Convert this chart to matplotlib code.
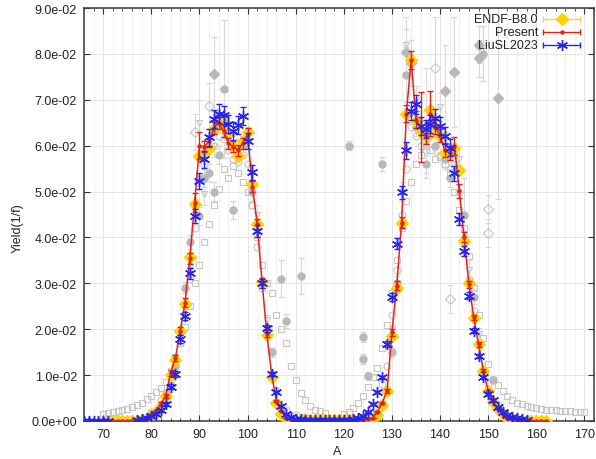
import matplotlib
matplotlib.use('Agg')
import matplotlib.pyplot as plt
from matplotlib.ticker import MultipleLocator, FuncFormatter

plt.rcParams['font.family'] = ['Liberation Sans', 'DejaVu Sans']
plt.rcParams['font.size'] = 9

# ---------------- data ----------------
endf_A = list(range(71, 163))
endf_Y = [0.000002, 0.000010, 0.000020, 0.000035, 0.000050, 0.000070, 0.000083, 0.000206, 0.000445, 0.00125,
          0.00200, 0.00330, 0.00536, 0.00995, 0.0132, 0.0196, 0.0256, 0.0358, 0.0473, 0.0578,
          0.0582, 0.0596, 0.0637, 0.0647, 0.0650, 0.0628, 0.0598, 0.0578, 0.0611, 0.0629,
          0.0517, 0.0429, 0.0303, 0.0188, 0.0096, 0.0040, 0.00146, 0.00054, 0.00031, 0.00025,
          0.00018, 0.00013, 0.00014, 0.00012, 0.00011, 0.00011, 0.00011, 0.00011, 0.00011, 0.00013,
          0.00013, 0.00015, 0.00016, 0.00027, 0.00034, 0.00059, 0.00130, 0.00350, 0.00660, 0.0185,
          0.0289, 0.0431, 0.0670, 0.0787, 0.0654, 0.0631, 0.0619, 0.0677, 0.0641, 0.0622,
          0.0585, 0.0584, 0.0596, 0.0547, 0.0393, 0.0300, 0.0225, 0.0167, 0.0108, 0.0065,
          0.0042, 0.0027, 0.0016, 0.00074, 0.00033, 0.00014, 0.000063, 0.000030, 0.000010, 0.000003,
          0.000001, 0.0000005]
endf_err = [0.00001] * 7 + [0.00003, 0.00005, 0.0001,
            0.0001, 0.0002, 0.0003, 0.0004, 0.0005, 0.0006, 0.0006, 0.0007, 0.0008, 0.0009,
            0.0009, 0.0009, 0.0009, 0.0009, 0.0009, 0.0009, 0.0009, 0.0009, 0.0009, 0.0009,
            0.0008, 0.0007, 0.0006, 0.0005, 0.0003, 0.0002, 0.0001, 0.00005, 0.00003, 0.00003] + \
           [0.00002] * 10 + \
           [0.00002, 0.00002, 0.00002, 0.00003, 0.00004, 0.00006, 0.0001, 0.0002, 0.0003, 0.0005,
            0.0006, 0.0007, 0.0009, 0.0010, 0.0009, 0.0009, 0.0009, 0.0009, 0.0009, 0.0009,
            0.0009, 0.0009, 0.0009, 0.0009, 0.0007, 0.0006, 0.0005, 0.0004, 0.0003, 0.0002,
            0.0001, 0.0001, 0.00005, 0.00003, 0.00002, 0.00001, 0.00001, 0.00001, 0.00001, 0.00001,
            0.00001, 0.00001]

pres_A = list(range(71, 163))
pres_Y = [0.000002, 0.000010, 0.000020, 0.000035, 0.000050, 0.000070, 0.000090, 0.000210, 0.000450, 0.00130,
          0.00210, 0.00380, 0.00550, 0.0105, 0.0137, 0.0196, 0.0258, 0.0355, 0.0476, 0.0600,
          0.0598, 0.0610, 0.0639, 0.0650, 0.0632, 0.0605, 0.0598, 0.0590, 0.0605, 0.0625,
          0.0511, 0.0430, 0.0304, 0.0189, 0.0102, 0.0043, 0.0022, 0.00070, 0.00035, 0.00026,
          0.00018, 0.00013, 0.00014, 0.00012, 0.00011, 0.00011, 0.00011, 0.00011, 0.00011, 0.00013,
          0.00013, 0.00015, 0.00017, 0.00030, 0.00040, 0.00070, 0.00200, 0.00400, 0.00660, 0.0193,
          0.0295, 0.0432, 0.0670, 0.0787, 0.0657, 0.0640, 0.0620, 0.0670, 0.0641, 0.0622,
          0.0590, 0.0584, 0.0599, 0.0501, 0.0400, 0.0298, 0.0226, 0.0167, 0.0110, 0.0066,
          0.0043, 0.0027, 0.0016, 0.00075, 0.00034, 0.00015, 0.000065, 0.000030, 0.000010, 0.000003,
          0.000001, 0.0000005]
pres_err = [0.00002, 0.00002, 0.00003, 0.00003, 0.00004, 0.00005, 0.00005, 0.0001, 0.0001, 0.0002,
            0.0002, 0.0003, 0.0004, 0.0006, 0.0007, 0.0009, 0.0010, 0.0012, 0.0020, 0.0030,
            0.0012, 0.0012, 0.0013, 0.0013, 0.0013, 0.0012, 0.0012, 0.0012, 0.0012, 0.0013,
            0.0012, 0.0011, 0.0008, 0.0006, 0.0004, 0.0002, 0.0001, 0.00005, 0.00003, 0.00003] + \
           [0.00002] * 10 + \
           [0.00002, 0.00002, 0.00002, 0.00003, 0.00004, 0.00006, 0.0001, 0.0002, 0.0004, 0.0008,
            0.0010, 0.0012, 0.0018, 0.0020, 0.0018, 0.0076, 0.0016, 0.0050, 0.0016, 0.0015,
            0.0015, 0.0015, 0.0020, 0.0016, 0.0011, 0.0008, 0.0006, 0.0005, 0.0003, 0.0002,
            0.0001, 0.0001, 0.00005, 0.00003, 0.00002, 0.00001, 0.00001, 0.00001, 0.00001, 0.00001,
            0.00001, 0.00001]

liu_A = list(range(66, 72)) + list(range(77, 159))
liu_Y = [0.00001, 0.00002, 0.00003, 0.00005, 0.00008, 0.00010,
         0.00020, 0.00040, 0.00070, 0.00110, 0.00160, 0.00230, 0.00370, 0.00750, 0.01020, 0.01790,
         0.0229, 0.0322, 0.0447, 0.0523, 0.0570, 0.0618, 0.0658, 0.0670, 0.0667, 0.0647,
         0.0632, 0.0645, 0.0665, 0.0610, 0.0542, 0.0415, 0.0300, 0.0202, 0.0102, 0.0063,
         0.0033, 0.0015, 0.0008, 0.0005, 0.0004, 0.0003, 0.00025, 0.00025, 0.00025, 0.00025,
         0.00025, 0.00025, 0.00025, 0.00025, 0.0003, 0.0004, 0.0006, 0.0010, 0.0020, 0.0037,
         0.0063, 0.0095, 0.0168, 0.0270, 0.0386, 0.0498, 0.0590, 0.0675, 0.0690, 0.0643,
         0.0636, 0.0647, 0.0660, 0.0643, 0.0622, 0.0596, 0.0540, 0.0440, 0.0370, 0.0273,
         0.0197, 0.0142, 0.0095, 0.0059, 0.0045, 0.0030, 0.0020, 0.0013, 0.0009, 0.0006,
         0.0004, 0.0002]
liu_err = [0.00002] * 6 + \
          [0.00005, 0.0001, 0.0001, 0.0002, 0.0002, 0.0003, 0.0004, 0.0005, 0.0006, 0.0008,
           0.0009, 0.0012, 0.0015, 0.0017, 0.0018, 0.0019, 0.0020, 0.0020, 0.0020, 0.0019,
           0.0019, 0.0020, 0.0020, 0.0018, 0.0016, 0.0013, 0.0010, 0.0007, 0.0004, 0.0003,
           0.0002, 0.0001, 0.00005, 0.00004, 0.00003, 0.00003, 0.00003, 0.00003, 0.00003, 0.00003,
           0.00003, 0.00003, 0.00003, 0.00003, 0.00003, 0.00004, 0.00005, 0.00006, 0.0001, 0.0002,
           0.0003, 0.0004, 0.0006, 0.0009, 0.0012, 0.0015, 0.0018, 0.0020, 0.0021, 0.0019,
           0.0019, 0.0019, 0.0020, 0.0019, 0.0019, 0.0018, 0.0016, 0.0013, 0.0011, 0.0008,
           0.0006, 0.0005, 0.0004, 0.0003, 0.0002, 0.0001, 0.0001, 0.00005, 0.00004, 0.00003,
           0.00002, 0.00002]

# grey experimental data (various sets)
sq_A = list(range(70, 117)) + list(range(120, 171))
sq_Y = [0.0015, 0.0017, 0.0020, 0.0022, 0.0024, 0.0026, 0.0030, 0.0034, 0.0040, 0.0047,
        0.0055, 0.0063, 0.0072, 0.0085, 0.0110, 0.0140, 0.0170, 0.0205, 0.0250, 0.0300,
        0.0340, 0.0390, 0.0430, 0.0470, 0.0505, 0.0550, 0.0530, 0.0555, 0.0540, 0.0520,
        0.0500, 0.0470, 0.0400, 0.0340, 0.0300, 0.0280, 0.0230, 0.0200, 0.0170, 0.0120,
        0.0090, 0.0060, 0.0045, 0.0032, 0.0025, 0.0021, 0.0018,
        0.0015, 0.0020, 0.0028, 0.0040, 0.0055, 0.0075, 0.0095, 0.0115, 0.0160, 0.0210,
        0.0280, 0.0350, 0.0420, 0.0480, 0.0520, 0.0560, 0.0580, 0.0600, 0.0590, 0.0570,
        0.0575, 0.0560, 0.0540, 0.0500, 0.0460, 0.0420, 0.0360, 0.0290, 0.0230, 0.0180,
        0.0125, 0.0090, 0.0078, 0.0066, 0.0055, 0.0046, 0.0040, 0.0036, 0.0033, 0.0030,
        0.0028, 0.0026, 0.0025, 0.0024, 0.0023, 0.0022, 0.0021, 0.0021, 0.0020, 0.0019,
        0.0019]

circ_A = [80, 82, 84, 86, 88, 89, 90, 91, 92, 93, 94, 95, 96, 97, 98, 99, 100, 101, 102, 103, 104,
          106, 108, 110, 112, 126, 128, 129, 130, 131, 132, 133, 134, 135, 136, 137, 138, 139, 140,
          141, 142, 143, 144, 145, 146, 147, 148, 150, 152, 154, 156]
circ_Y = [0.0020, 0.0045, 0.0090, 0.0170, 0.0310, 0.0420, 0.0530, 0.0560, 0.0590, 0.0600, 0.0620,
          0.0615, 0.0590, 0.0570, 0.0565, 0.0580, 0.0560, 0.0470, 0.0380, 0.0290, 0.0200,
          0.0065, 0.0025, 0.0012, 0.0008, 0.0030, 0.0080, 0.0120, 0.0230, 0.0330, 0.0450, 0.0550,
          0.0640, 0.0620, 0.0600, 0.0590, 0.0620, 0.0600, 0.0580, 0.0560, 0.0550, 0.0560, 0.0500,
          0.0400, 0.0310, 0.0240, 0.0170, 0.0080, 0.0035, 0.0012, 0.0005]

fc_A = [83, 85, 87, 88, 90, 91, 92, 93, 94, 95, 97, 99, 101, 105, 107, 108, 111, 121, 124, 124,
        125, 128, 130, 131, 133, 135, 137, 139, 141, 142, 143, 145, 147, 149, 151]
fc_Y = [0.0060, 0.0120, 0.0290, 0.0390, 0.0447, 0.0530, 0.0540, 0.0500, 0.0580, 0.0723,
        0.0460, 0.0600, 0.0500, 0.0150, 0.0310, 0.0218, 0.0316, 0.0600, 0.0183, 0.0135,
        0.0098, 0.0560, 0.0150, 0.0300, 0.0755, 0.0640, 0.0560, 0.0600, 0.0570, 0.0530,
        0.0580, 0.0450, 0.0270, 0.0800, 0.0090]
fc_err = [0.0005, 0.0008, 0.0012, 0.0015, 0.0020, 0.0020, 0.0020, 0.0020, 0.0020, 0.0150,
          0.0020, 0.0020, 0.0020, 0.0010, 0.0040, 0.0015, 0.0040, 0.0010, 0.0010, 0.0010,
          0.0008, 0.0015, 0.0010, 0.0015, 0.0060, 0.0020, 0.0020, 0.0020, 0.0020, 0.0020,
          0.0020, 0.0080, 0.0015, 0.0060, 0.0008]

od_A = [89, 92, 139, 142, 150, 150]
od_Y = [0.0630, 0.0687, 0.0770, 0.0266, 0.0462, 0.0410]
od_err = [0.0040, 0.0050, 0.0110, 0.0030, 0.0030, 0.0030]

fd_A = [93, 133, 134, 141, 143, 148, 148, 152]
fd_Y = [0.0756, 0.0805, 0.0780, 0.0720, 0.0760, 0.0820, 0.0790, 0.0703]
fd_err = [0.0080, 0.0050, 0.0050, 0.0100, 0.0120, 0.0040, 0.0040, 0.0220]

tri_A = [88, 90, 91, 93, 95, 97, 98, 100, 102, 104, 130, 132, 133, 135, 137, 140, 141, 144, 146, 148]
tri_Y = [0.0330, 0.0650, 0.0495, 0.0600, 0.0640, 0.0600, 0.0590, 0.0610, 0.0450, 0.0220,
         0.0200, 0.0500, 0.0820, 0.0700, 0.0650, 0.0684, 0.0600, 0.0570, 0.0330, 0.0190]
tri_err = [0.0015, 0.0050, 0.0025, 0.0025, 0.0025, 0.0025, 0.0025, 0.0025, 0.0020, 0.0012,
           0.0012, 0.0020, 0.0060, 0.0030, 0.0120, 0.0030, 0.0030, 0.0030, 0.0020, 0.0012]

legend_labels = ['ENDF-B8.0', 'Present', 'LiuSL2023']
x_label = 'A'
y_label = 'Yield(1/f)'

# ---------------- figure ----------------
fig = plt.figure(figsize=(5.96, 4.60), dpi=100)
ax = fig.add_axes([84 / 596, 38 / 460, 510 / 596, 413 / 460])

GREY_E = '#c6c6c6'
GREY_F = '#b8b8b8'
GREY_BAR = '#d8d8d8'

ax.plot(sq_A, sq_Y, ls='none', marker='s', ms=5, mfc='none', mec=GREY_E, mew=0.8, zorder=2)
ax.plot(circ_A, circ_Y, ls='none', marker='o', ms=5, mfc='none', mec=GREY_E, mew=0.8, zorder=2)
ax.errorbar(fc_A, fc_Y, yerr=fc_err, fmt='o', ms=5, mfc=GREY_F, mec=GREY_F, ecolor=GREY_BAR,
            elinewidth=0.8, capsize=2, zorder=2)
ax.errorbar(od_A, od_Y, yerr=od_err, fmt='D', ms=5, mfc='none', mec=GREY_E, mew=0.8, ecolor=GREY_BAR,
            elinewidth=0.8, capsize=2, zorder=2)
ax.errorbar(fd_A, fd_Y, yerr=fd_err, fmt='D', ms=5, mfc=GREY_F, mec=GREY_F, ecolor=GREY_BAR,
            elinewidth=0.8, capsize=2, zorder=2)
ax.errorbar(tri_A, tri_Y, yerr=tri_err, fmt='v', ms=5, mfc='none', mec=GREY_E, mew=0.8, ecolor=GREY_BAR,
            elinewidth=0.8, capsize=2, zorder=2)

C_ENDF = '#FFD200'
C_ENDF_BAR = '#EADB4C'
C_PRES = '#E3221B'
C_LIU = '#2525EE'
ASTER = (6, 2, 0)

ax.errorbar(endf_A, endf_Y, yerr=endf_err, fmt='D', ms=6, mfc=C_ENDF, mec=C_ENDF, ecolor=C_ENDF_BAR,
            elinewidth=1.0, capsize=2.5, zorder=3)
ax.errorbar(pres_A, pres_Y, yerr=pres_err, fmt='-o', ms=2.2, color=C_PRES, lw=1.1,
            elinewidth=1.0, capsize=2.5, zorder=4)
ax.errorbar(liu_A, liu_Y, yerr=liu_err, fmt='none', ecolor=C_LIU, elinewidth=0.9, capsize=2.5, zorder=5)
ax.plot(liu_A, liu_Y, ls='none', marker=ASTER, ms=8, mec=C_LIU, mew=1.0, zorder=5)

# axes styling
ax.set_xlim(66, 172)
ax.set_ylim(0, 0.09)
ax.xaxis.set_major_locator(MultipleLocator(10))
ax.xaxis.set_minor_locator(MultipleLocator(2))
ax.yaxis.set_major_locator(MultipleLocator(0.01))
ax.yaxis.set_major_formatter(FuncFormatter(lambda v, p: '%.1e' % v))
ax.tick_params(which='both', direction='in', top=True, right=True, colors='#333333',
               labelcolor='#222222', labelsize=9)
ax.tick_params(which='major', length=4.5, width=0.8, pad=5)
ax.tick_params(which='minor', length=2.5, width=0.6)
ax.grid(True, which='major', color='#e2e2e2', lw=0.6)
ax.grid(True, which='minor', axis='x', color='#ececec', lw=0.5)
ax.set_axisbelow(True)
for s in ax.spines.values():
    s.set_color('#3a3a3a')
    s.set_linewidth(1.1)

ax.set_xlabel(x_label, fontsize=9, color='#222222')
ax.set_ylabel(y_label, fontsize=9, color='#222222')
ax.xaxis.set_label_coords(0.497, -0.058)
ax.yaxis.set_label_coords(-0.118, 0.47)

# gnuplot-style key (text right-aligned, sample on the right)
rows_y = [0.973, 0.942, 0.910]
x_txt = 0.890
x0, x1 = 0.900, 0.973
xm = (x0 + x1) / 2
styles = [
    dict(color=C_ENDF_BAR, marker='D', mfc=C_ENDF, mec=C_ENDF, ms=6),
    dict(color=C_PRES, marker='o', mfc=C_PRES, mec=C_PRES, ms=2.2),
    dict(color=C_LIU, marker=ASTER, mfc=C_LIU, mec=C_LIU, ms=8),
]
for lab, yy, st in zip(legend_labels, rows_y, styles):
    ax.text(x_txt, yy, lab, transform=ax.transAxes, ha='right', va='center', fontsize=9, color='#222222',
            zorder=7)
    ax.plot([x0, x1], [yy, yy], transform=ax.transAxes, color=st['color'], lw=1.0, zorder=7,
            clip_on=False)
    ax.plot([x0, x1], [yy, yy], transform=ax.transAxes, ls='none', marker='|', ms=5, mew=1.0,
            color=st['color'], zorder=7, clip_on=False)
    ax.plot([xm], [yy], transform=ax.transAxes, ls='none', marker=st['marker'], ms=st['ms'],
            mfc=st['mfc'], mec=st['mec'], mew=1.0, zorder=8, clip_on=False)

fig.savefig('out.png', dpi=100)
